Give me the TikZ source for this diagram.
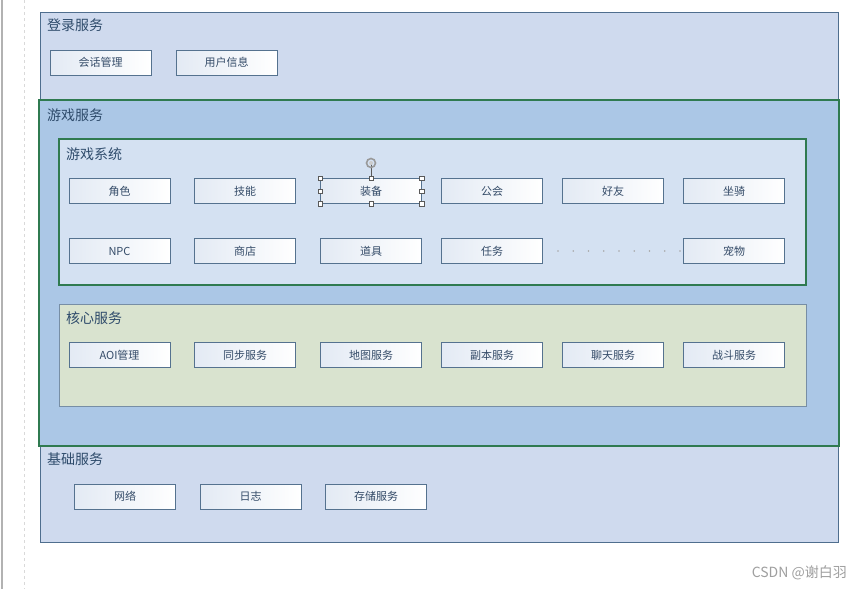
\documentclass[tikz,border=0pt]{standalone}
\usepackage{fontspec}
\setmainfont{Noto Sans CJK SC}
\usetikzlibrary{positioning}
\definecolor{outerfill}{HTML}{CFDAEE}
\definecolor{outerline}{HTML}{4F6E8E}
\definecolor{gamefill}{HTML}{ABC7E6}
\definecolor{greenline}{HTML}{2F7A50}
\definecolor{sysfill}{HTML}{D4E1F2}
\definecolor{corefill}{HTML}{D9E3CF}
\definecolor{boxline}{HTML}{55728F}
\definecolor{boxtext}{HTML}{344B68}
\definecolor{labeltext}{HTML}{2E4B6B}
\definecolor{boxleft}{HTML}{E3EAF4}
\begin{document}
\begin{tikzpicture}[x=1pt,y=-1pt,
  svc/.style={draw=boxline,line width=0.8pt,left color=boxleft,right color=white,
    minimum width=101pt,minimum height=25pt,inner sep=0pt,text=boxtext,
    font=\fontsize{11}{13}\selectfont},
  grouplabel/.style={anchor=west,text=labeltext,font=\fontsize{14}{16}\selectfont,inner sep=0pt},
  handle/.style={draw=gray!70!black,fill=white,line width=0.5pt,minimum size=4.5pt,inner sep=0pt}]
\useasboundingbox (0,0) rectangle (862,589);
\fill[white] (0,0) rectangle (862,589);
% screen artifacts at left edge
\draw[gray!60,line width=1.2pt] (2,0) -- (2,589);
\draw[gray!30,dashed,line width=0.5pt] (24,0) -- (24,589);
% outer light box (login + base)
\draw[outerline,fill=outerfill,line width=0.8pt] (40,12) rectangle (838,542);
\node[grouplabel] (loginlbl) at (47,25) {登录服务};
\node[svc] (sess) at (100.5,62.5) {会话管理};
\node[svc] (user) at (226.5,62.5) {用户信息};
% game service
\draw[greenline,fill=gamefill,line width=1.4pt] (39,100) rectangle (839,446);
\node[grouplabel] (gamelbl) at (47,115) {游戏服务};
% game system
\draw[greenline,fill=sysfill,line width=1.4pt] (59,139) rectangle (806,285);
\node[grouplabel] (syslbl) at (66,154) {游戏系统};
\node[svc] (role) at (119.5,191) {角色};
\node[svc] (skill) at (245,191) {技能};
\node[svc] (equip) at (371,191) {装备};
\node[svc] (guild) at (492,191) {公会};
\node[svc] (friend) at (613,191) {好友};
\node[svc] (mount) at (734,191) {坐骑};
\node[svc] (npc) at (119.5,251) {NPC};
\node[svc] (shop) at (245,251) {商店};
\node[svc] (item) at (371,251) {道具};
\node[svc] (task) at (492,251) {任务};
\node[svc] (pet) at (734,251) {宠物};
\foreach \i in {0,...,8} {\fill[gray!70] (558+15.25*\i,251) circle (0.8pt);}
% selection handles on equip box
\coordinate (rot) at (371,163);
\draw[gray!70!black,line width=0.5pt] (equip.north) -- (rot);
\draw[gray!80,line width=1.6pt] (rot) circle (4.5pt);
\fill[gray!40] (rot) circle (2pt);
\foreach \a in {north west,north,north east,west,east,south west,south,south east}
  {\node[handle] at (equip.\a) {};}
% core service
\draw[boxline!80,fill=corefill,line width=0.8pt] (59,304) rectangle (806,406);
\node[grouplabel] (corelbl) at (66,318) {核心服务};
\node[svc] (aoi) at (119.5,355) {AOI管理};
\node[svc] (sync) at (245,355) {同步服务};
\node[svc] (map) at (371,355) {地图服务};
\node[svc] (dungeon) at (492,355) {副本服务};
\node[svc] (chat) at (613,355) {聊天服务};
\node[svc] (fight) at (734,355) {战斗服务};
% base service
\node[grouplabel] (baselbl) at (47,459) {基础服务};
\node[svc] (net) at (125,496.5) {网络};
\node[svc] (log) at (250.5,496.5) {日志};
\node[svc] (store) at (376,496.5) {存储服务};
% watermark
\node[anchor=east,text=gray!75,font=\fontsize{14}{16}\selectfont,inner sep=0pt] (wm) at (847,573) {CSDN @谢白羽};
\end{tikzpicture}
\end{document}
